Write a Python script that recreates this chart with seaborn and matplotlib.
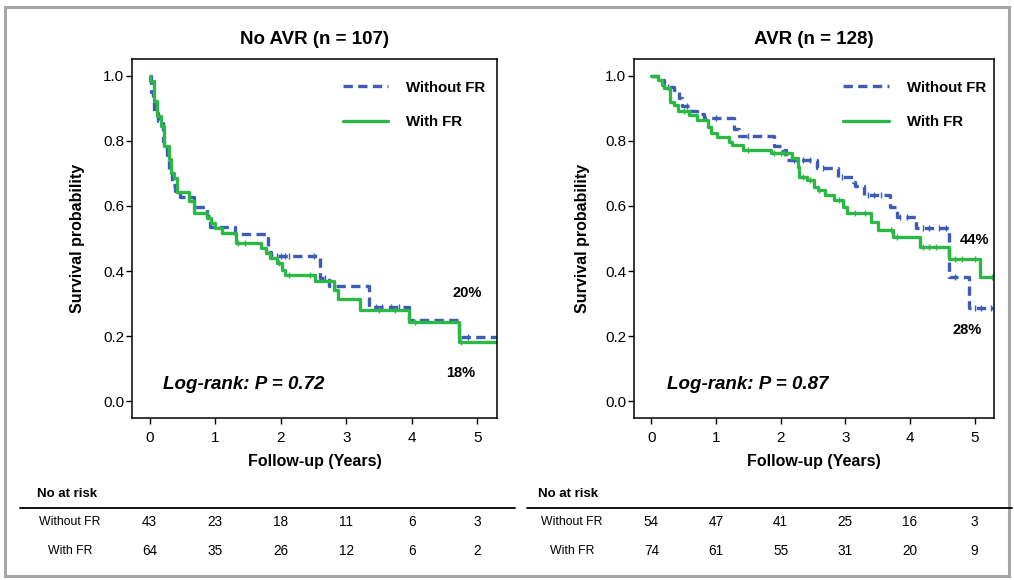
import numpy as np
import matplotlib
matplotlib.use("Agg")
import matplotlib.pyplot as plt
import matplotlib.transforms as mtransforms
from matplotlib.lines import Line2D
from matplotlib.patches import Rectangle
import seaborn as sns

# ---- data (Kaplan-Meier step curves) ----
# No AVR, without FR
noavr_wo_t = [0, 0.02, 0.05, 0.07, 0.12, 0.20, 0.22, 0.27, 0.30, 0.34, 0.38, 0.47, 0.67, 0.88, 0.92,
              1.30, 1.80, 1.85, 2.60, 2.73, 3.35, 3.96, 4.72, 5.30]
noavr_wo_s = [1.0, 0.95, 0.92, 0.885, 0.86, 0.80, 0.78, 0.74, 0.70, 0.665, 0.645, 0.629, 0.598, 0.57, 0.536,
              0.514, 0.459, 0.445, 0.38, 0.353, 0.289, 0.25, 0.198, 0.198]
noavr_wo_cens = [1.95, 2.0, 2.07, 2.12, 2.5, 2.67, 3.45, 3.55, 3.68, 3.8, 4.85]

# No AVR, with FR
noavr_w_t = [0, 0.01, 0.066, 0.117, 0.178, 0.218, 0.294, 0.33, 0.37, 0.42, 0.60, 0.67, 0.88, 0.93, 1.0,
             1.10, 1.31, 1.70, 1.77, 1.84, 1.94, 2.02, 2.07, 2.53, 2.81, 2.88, 3.21, 3.96, 4.72, 5.30]
noavr_w_s = [1.0, 0.985, 0.924, 0.878, 0.847, 0.785, 0.744, 0.70, 0.687, 0.643, 0.615, 0.579, 0.562, 0.547, 0.531,
             0.516, 0.485, 0.47, 0.454, 0.439, 0.424, 0.403, 0.389, 0.368, 0.343, 0.314, 0.281, 0.243, 0.181, 0.181]
noavr_w_cens = [0.3, 1.35, 1.45, 1.97, 2.12, 2.45, 3.5, 3.75, 4.05, 4.75]

# AVR, without FR
avr_wo_t = [0, 0.10, 0.20, 0.35, 0.43, 0.47, 0.61, 0.71, 0.82, 1.27, 1.36, 1.89, 2.03, 2.08, 2.56, 2.88,
            3.12, 3.15, 3.29, 3.69, 3.80, 4.10, 4.60, 4.92, 5.28]
avr_wo_s = [1.0, 0.988, 0.967, 0.957, 0.931, 0.909, 0.892, 0.882, 0.872, 0.837, 0.816, 0.783, 0.772, 0.742,
            0.716, 0.69, 0.675, 0.66, 0.634, 0.596, 0.565, 0.531, 0.381, 0.285, 0.285]
avr_wo_cens = [0.25, 0.55, 1.0, 1.5, 2.2, 2.25, 2.35, 2.45, 2.65, 2.95, 3.35, 3.45, 3.55, 3.85, 3.95,
               4.2, 4.3, 4.45, 4.55, 4.7, 5.0, 5.1, 5.25]

# AVR, with FR
avr_w_t = [0, 0.10, 0.17, 0.20, 0.29, 0.35, 0.41, 0.58, 0.71, 0.87, 0.92, 1.02, 1.20, 1.25, 1.41, 1.85,
           2.18, 2.26, 2.29, 2.40, 2.52, 2.57, 2.68, 2.83, 2.96, 3.02, 3.40, 3.51, 3.74, 4.15, 4.60, 5.09, 5.28]
avr_w_s = [1.0, 0.988, 0.972, 0.962, 0.919, 0.911, 0.892, 0.88, 0.865, 0.844, 0.824, 0.813, 0.798, 0.788,
           0.772, 0.762, 0.747, 0.72, 0.69, 0.68, 0.658, 0.649, 0.634, 0.618, 0.598, 0.578, 0.55, 0.526,
           0.504, 0.475, 0.436, 0.382, 0.382]
avr_w_cens = [0.5, 1.5, 1.9, 2.0, 2.05, 2.35, 2.45, 2.6, 2.9, 3.15, 3.3, 3.7, 3.8, 4.2, 4.3, 4.4,
              4.7, 4.8, 5.0, 5.27]

# numbers at risk
risk_times = [0, 1, 2, 3, 4, 5]
noavr_risk_wo = [43, 23, 18, 11, 6, 3]
noavr_risk_w = [64, 35, 26, 12, 6, 2]
avr_risk_wo = [54, 47, 41, 25, 16, 3]
avr_risk_w = [74, 61, 55, 31, 20, 9]

titles = ["No AVR (n = 107)", "AVR (n = 128)"]
pvalues = ["Log-rank: P = 0.72", "Log-rank: P = 0.87"]

BLUE = "#3d5cb5"
GREEN = "#2cb845"

sns.set_theme(style="white")
plt.rcParams["font.family"] = ["Liberation Sans", "DejaVu Sans"]
plt.rcParams["text.color"] = "black"
plt.rcParams["axes.labelcolor"] = "black"
plt.rcParams["xtick.color"] = "black"
plt.rcParams["ytick.color"] = "black"

fig = plt.figure(figsize=(10.14, 5.80), dpi=100)
W, H = 1014, 580


def px_axes(x0, y0, x1, y1):
    return fig.add_axes([x0 / W, 1 - y1 / H, (x1 - x0) / W, (y1 - y0) / H])


ax1 = px_axes(132, 59, 497, 418)
ax2 = px_axes(634, 59, 994, 418)


def step_value(times, surv, c):
    i = np.searchsorted(times, c, side="right") - 1
    return surv[i]


def km(ax, t, s, cens, color, ls, label):
    sns.lineplot(x=t, y=s, ax=ax, color=color, linestyle=ls, linewidth=2.4,
                 drawstyle="steps-post", estimator=None, sort=False, label=label)
    cy = [step_value(np.array(t), np.array(s), c) for c in cens]
    ax.plot(cens, cy, linestyle="none", marker="|", color=color, markersize=4.5, mew=1.0)


panels = [
    (ax1, noavr_wo_t, noavr_wo_s, noavr_wo_cens, noavr_w_t, noavr_w_s, noavr_w_cens,
     noavr_risk_wo, noavr_risk_w),
    (ax2, avr_wo_t, avr_wo_s, avr_wo_cens, avr_w_t, avr_w_s, avr_w_cens,
     avr_risk_wo, avr_risk_w),
]

for i, (ax, t1, s1, c1, t2, s2, c2, r1, r2) in enumerate(panels):
    km(ax, t1, s1, c1, BLUE, (0, (2.8, 1.6)), "Without FR")
    km(ax, t2, s2, c2, GREEN, "-", "With FR")

    ax.set_xlim(-0.27, 5.3)
    ax.set_ylim(-0.052, 1.052)
    ax.set_xticks([0, 1, 2, 3, 4, 5])
    ax.set_yticks([0.0, 0.2, 0.4, 0.6, 0.8, 1.0])
    ax.set_yticklabels(["0.0", "0.2", "0.4", "0.6", "0.8", "1.0"])
    ax.tick_params(axis="both", which="major", direction="out", length=4.5, width=1,
                   color="black", labelsize=11, labelcolor="black")
    ax.tick_params(axis="x", pad=4.5)
    ax.tick_params(axis="y", pad=1)
    ax.tick_params(left=True, bottom=True)
    for sp in ax.spines.values():
        sp.set_color("black")
        sp.set_linewidth(1.1)
    ax.grid(False)

    ax.set_title(titles[i], fontsize=13.5, fontweight="bold", pad=10.5, color="black")
    ax.set_xlabel("Follow-up (Years)", fontsize=11.5, fontweight="bold")
    ax.set_ylabel("Survival probability", fontsize=11.5, fontweight="bold")
    ax.xaxis.set_label_coords(0.5, -0.10)
    ax.yaxis.set_label_coords(-0.129 if i == 0 else -0.122, 0.5)

    leg = ax.legend(loc="upper left", bbox_to_anchor=(0.577 if i == 0 else 0.581, 0.94),
                    frameon=False, handlelength=3.05, handletextpad=1.2, labelspacing=1.35,
                    borderaxespad=0, borderpad=0, prop={"size": 10.8, "weight": "bold"})
    for txt in leg.get_texts():
        txt.set_color("black")

    ax.text(0.2 if i == 0 else 0.24, 0.05, pvalues[i], fontsize=13.5, fontweight="bold",
            fontstyle="italic", va="center", ha="left")

    # risk table under each panel (x follows the data axis)
    tr = mtransforms.blended_transform_factory(ax.transData, fig.transFigure)
    for tt, a, b in zip(risk_times, r1, r2):
        ax.text(tt, 1 - 522 / H, str(a), transform=tr, ha="center", va="center",
                fontsize=9.8, clip_on=False)
        ax.text(tt, 1 - 551 / H, str(b), transform=tr, ha="center", va="center",
                fontsize=9.8, clip_on=False)

# end labels
ax1.text(4.84, 0.332, "20%", fontsize=10.5, fontweight="bold", ha="center", va="center")
ax1.text(4.75, 0.086, "18%", fontsize=10.5, fontweight="bold", ha="center", va="center")
ax2.text(5.0, 0.495, "44%", fontsize=10.5, fontweight="bold", ha="center", va="center")
ax2.text(4.88, 0.218, "28%", fontsize=10.5, fontweight="bold", ha="center", va="center")

# risk table headers, rules and row labels
for x_head, x_lab, x0, x1 in [(37, 70, 20, 515), (538, 572, 527, 1012)]:
    fig.text(x_head / W, 1 - 494 / H, "No at risk", fontsize=9.5, fontweight="bold",
             ha="left", va="center")
    fig.add_artist(Line2D([x0 / W, x1 / W], [1 - 508 / H, 1 - 508 / H], color="black", lw=1.3))
    fig.text(x_lab / W, 1 - 522 / H, "Without FR", fontsize=8.8, ha="center", va="center")
    fig.text(x_lab / W, 1 - 551 / H, "With FR", fontsize=8.8, ha="center", va="center")

# grey frame around the whole figure
fig.add_artist(Rectangle((5 / W, 1 - 576 / H), 1004 / W, 569 / H, transform=fig.transFigure,
                         fill=False, edgecolor="#a6a6a6", linewidth=2.2))

fig.savefig("out.png", dpi=100)
